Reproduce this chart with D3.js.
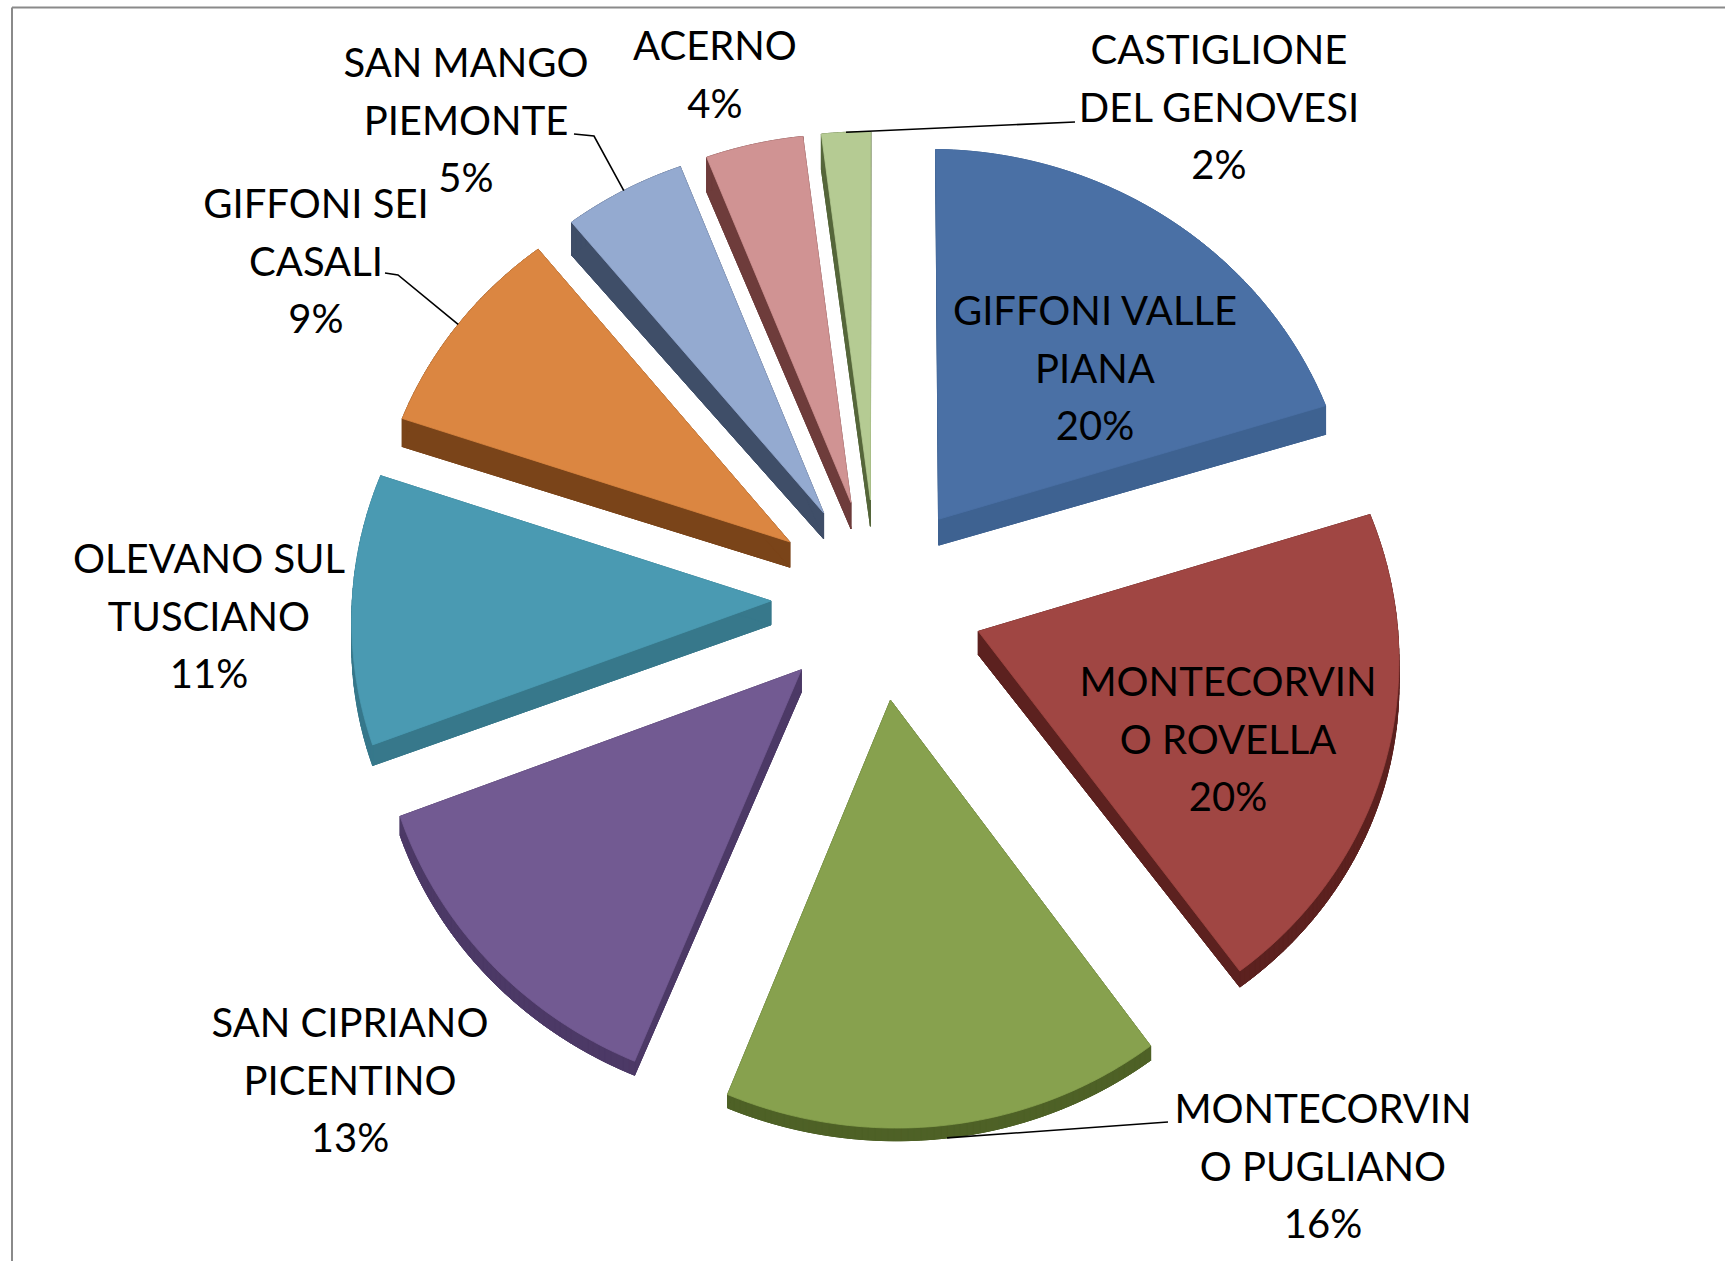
<!DOCTYPE html>
<html>
<head>
<meta charset="utf-8">
<script src="https://cdn.jsdelivr.net/npm/d3@7"></script>
<style>
  body { margin: 0; background: #fff; }
  svg text { font-family: Lato, "Open Sans", sans-serif; font-size: 40px; fill: #000; }
</style>
</head>
<body>
<div id="chart"></div>
<script>
// comuni (label lines as in the chart) and their shares
var comuni = [
  "GIFFONI VALLE\nPIANA",
  "MONTECORVIN\nO ROVELLA",
  "MONTECORVIN\nO PUGLIANO",
  "SAN CIPRIANO\nPICENTINO",
  "OLEVANO SUL\nTUSCIANO",
  "GIFFONI SEI\nCASALI",
  "SAN MANGO\nPIEMONTE",
  "ACERNO",
  "CASTIGLIONE\nDEL GENOVESI"
];
var quote = [20, 20, 16, 13, 11, 9, 5, 4, 2];

var topColors  = ["#4a70a5", "#a04643", "#87a14e", "#725a92", "#4a9ab2", "#db8641", "#94aad0", "#d09393", "#b5cb93"];
var sideColors = ["#3e6291", "#5c211f", "#4e6126", "#4c3966", "#37788b", "#7a4419", "#3f4e68", "#6e3c3b", "#55663a"];

function init(){
  var w = 1725, h = 1261;
  var cx = 877, cy = 599;    // pie centre on screen
  var r = 410;               // radius in the pie plane
  var explode = 104;
  var kx = 1.02, ky = 0.966; // tilt
  var shear = 0.012, persp = 0.05;
  var lineH = 57.5;

  var svg = d3.select("#chart").append("svg")
    .attr("width", w).attr("height", h);

  // frame lines (top and left)
  svg.append("line").attr("x1", 12).attr("x2", w).attr("y1", 7.5).attr("y2", 7.5)
    .attr("stroke", "#8a8a8a").attr("stroke-width", 2);
  svg.append("line").attr("x1", 12).attr("x2", 12).attr("y1", 7.5).attr("y2", h)
    .attr("stroke", "#8a8a8a").attr("stroke-width", 2);

  var pie = d3.pie().sort(null).value(function(d){ return d; });
  var arcs = pie(quote);

  // point of slice d in the pie plane (angle a, distance rr from slice apex)
  function plane(d, a, rr){
    var m = (d.startAngle + d.endAngle) / 2;
    return [explode * Math.sin(m) + rr * Math.sin(a),
            -(explode * Math.cos(m) + rr * Math.cos(a))];
  }
  // mild perspective: nearer (lower) part of the pie looks larger
  function project(p){
    var f = 1 / (1 - persp * p[1] / r);
    return [cx + kx * p[0] * f, cy + (ky * p[1] + shear * p[0]) * f];
  }
  function depthAt(p){ return 24 - 9 * p[1] / r; }

  function outline(d){
    var pts = [plane(d, 0, 0)];
    var n = Math.max(4, Math.ceil((d.endAngle - d.startAngle) / 0.015));
    for (var k = 0; k <= n; k++) {
      var a = d.startAngle + (d.endAngle - d.startAngle) * k / n;
      pts.push(plane(d, a, r));
    }
    return pts;
  }

  var poly = d3.line().curve(d3.curveLinearClosed);

  // sides: quads between top outline and its lowered copy
  var sides = svg.append("g");
  arcs.forEach(function(d, i){
    var pts = outline(d);
    var top = pts.map(project);
    var bot = pts.map(function(p, j){ return [top[j][0], top[j][1] + depthAt(p)]; });
    sides.append("path").attr("d", poly(bot))
      .attr("fill", sideColors[i]).attr("stroke", sideColors[i]).attr("stroke-width", 1);
    for (var j = 0; j < pts.length; j++) {
      var j2 = (j + 1) % pts.length;
      sides.append("path")
        .attr("d", poly([top[j], top[j2], bot[j2], bot[j]]))
        .attr("fill", sideColors[i]).attr("stroke", sideColors[i]).attr("stroke-width", 1);
    }
  });

  // top faces
  svg.append("g").selectAll("path")
    .data(arcs)
    .enter()
    .append("path")
    .attr("d", function(d){ return poly(outline(d).map(project)); })
    .attr("fill", function(d, i){ return topColors[i]; })
    .attr("stroke", function(d, i){ return topColors[i]; })
    .attr("stroke-width", 0.8);

  // label placement (centre x, first-line centre y)
  var labelPos = [
    [1095, 311], [1228, 682], [1323, 1109], [350, 1023], [209, 559],
    [316, 204], [466, 63], [715, 46], [1219, 50]
  ];

  var labels = svg.append("g");
  arcs.forEach(function(d, i){
    var lines = comuni[i].split("\n").concat([quote[i] + "%"]);
    var t = labels.append("text").attr("text-anchor", "middle");
    lines.forEach(function(s, j){
      t.append("tspan")
        .attr("x", labelPos[i][0])
        .attr("y", labelPos[i][1] + j * lineH + 14)
        .text(s);
    });
  });

  // leader lines
  var leaders = [
    { i: 8, pts: [[1075, 122]], down: false },
    { i: 6, pts: [[574, 134], [594, 136]], down: false },
    { i: 5, pts: [[385, 273], [398, 275]], down: false },
    { i: 2, pts: [[1168, 1122]], down: true }
  ];
  var line = d3.line();
  leaders.forEach(function(l){
    var d = arcs[l.i];
    var a = (d.startAngle + d.endAngle) / 2;
    var p = plane(d, a, r);
    var end = project(p);
    if (l.down) end[1] += depthAt(p);
    svg.append("path")
      .attr("d", line(l.pts.concat([end])))
      .attr("fill", "none")
      .attr("stroke", "#000")
      .attr("stroke-width", 1.6);
  });
}

window.onload = init;
</script>
</body>
</html>
